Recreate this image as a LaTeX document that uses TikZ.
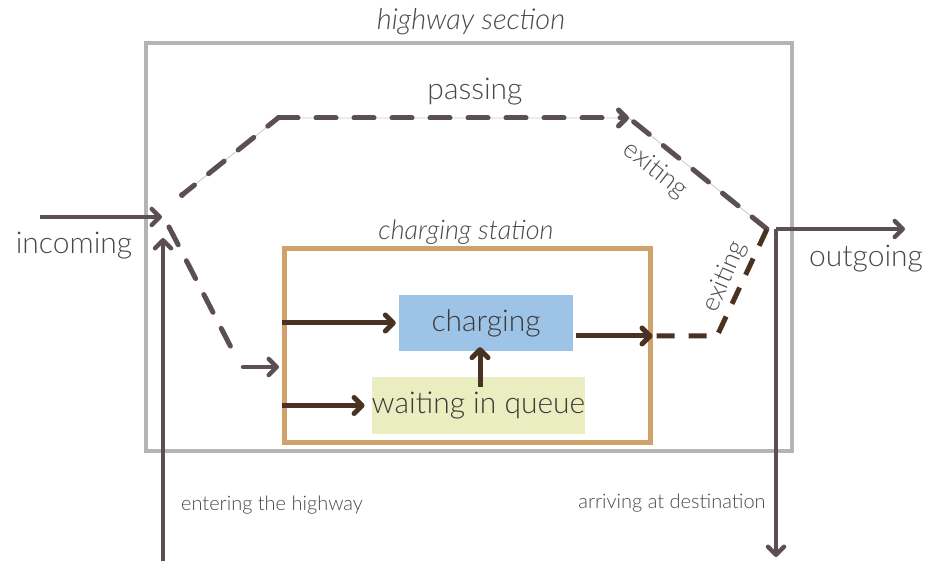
\documentclass[tikz,border=0pt]{standalone}
\usepackage{fontspec}
\setmainfont{Lato}[UprightFont=* Light, ItalicFont=* Light Italic]
\usetikzlibrary{arrows.meta, positioning}
\definecolor{cframe}{HTML}{B4B4B4}
\definecolor{cstation}{HTML}{CFA26C}
\definecolor{cpath}{HTML}{5C4F52}
\definecolor{cbrown}{HTML}{4A3222}
\definecolor{cguide}{HTML}{C8C8C8}
\definecolor{cblue}{HTML}{9DC3E6}
\definecolor{cyellow}{HTML}{E9EDBF}
\definecolor{ctext}{HTML}{4D4747}
\tikzset{
  every picture/.style={x=1pt, y=-1pt, text=ctext},
  big/.style={font=\fontsize{30}{34}\selectfont},
  small/.style={font=\fontsize{20}{24}\selectfont},
  slanted/.style={font=\fontsize{26}{30}\selectfont, inner sep=0pt},
  frame/.style={draw=#1, line width=4.5pt, minimum width=0pt, inner sep=0pt},
  stage/.style={fill=#1, big, text=ctext!80!black, inner sep=0pt},
  tip/.style={-{Straight Barb[length=8pt, width=16pt, round]}},
  flow/.style={draw=cpath, line width=4.5pt, tip},
  inflow/.style={draw=cbrown, line width=5pt, tip},
  dashpath/.style={draw=#1, line width=5pt, line cap=round, dash pattern=on 20pt off 18pt},
  dashpath/.default=cpath,
  guide/.style={draw=cguide, line width=0.8pt},
}
\begin{document}
\begin{tikzpicture}
  \useasboundingbox (0,0) rectangle (927,561);
  % frames
  \node[frame=cframe, minimum width=646pt, minimum height=408pt] (highway) at (469,247) {};
  \node[font=\fontsize{29}{33}\selectfont\itshape] (hwtitle) at (471,22) {highway section};
  \node[frame=cstation, line width=5pt, minimum width=366pt, minimum height=193pt] (station) at (467,345.5) {};
  \node[font=\fontsize{27}{31}\selectfont\itshape] (sttitle) at (466,232) {charging station};
  % stages
  \node[stage=cblue, minimum width=174pt, minimum height=56pt] (charging) at (486,323) {charging};
  \node[stage=cyellow, minimum width=211pt, minimum height=57pt] (waiting) at (478.5,405.5) {waiting in queue};
  % labels
  \node[big] (inlabel) at (74,246) {incoming};
  \node[big] (outlabel) at (866,259) {outgoing};
  \node[big] (passlabel) at (475,92) {passing};
  \node[small] (enterlabel) at (272,505) {entering the highway};
  \node[small] (arrivelabel) at (672,503) {arriving at destination};
  \node[slanted, rotate=-38] (exit1) at (655,170) {exiting};
  \node[slanted, rotate=67] (exit2) at (725,277) {exiting};
  % junctions
  \coordinate (inL) at (40,217);
  \coordinate (inR) at (162,217);
  \coordinate (entry) at (163,561);
  \coordinate (entryR) at (163,238);
  \coordinate (dot) at (182,195);
  \coordinate (topL) at (278,118);
  \coordinate (topR) at (629,118);
  \coordinate (join) at (767,229);
  \coordinate (split) at (169,227);
  \coordinate (splitD) at (236,357);
  \coordinate (qL) at (243,367);
  \coordinate (qR) at (279,367);
  \coordinate (qup) at (480,387);
  \coordinate (chout) at (576,336);
  \coordinate (stout) at (station.east |- chout);
  \coordinate (bend) at (717,336);
  \coordinate (corner) at (776,229);
  \coordinate (outR) at (905,229);
  \coordinate (outD) at (776,557);
  % incoming / entering
  \draw[flow] (inL) -- (inR);
  \draw[flow] (entry) -- (entryR);
  % passing
  \draw[guide] (dot) -- (topL) -- (topR) -- (join);
  \fill[cpath] (dot) circle (3pt);
  \draw[dashpath, dash phase=4pt] (dot) -- (topL);
  \draw[dashpath, tip] (topL) -- (topR);
  \draw[dashpath, dash phase=-6pt] (topR) -- (join);
  % to the station
  \draw[dashpath] (split) -- (splitD);
  \draw[flow, line cap=round] (qL) -- (qR);
  % inside the station
  \draw[inflow, shorten >=3pt] (station.west |- charging) -- (charging.west);
  \draw[inflow, shorten >=7pt] (station.west |- waiting) -- (waiting.west);
  \draw[inflow, shorten >=-4pt] (qup) -- (qup |- charging.south);
  \draw[inflow] (chout) -- (stout);
  \draw[dashpath=cbrown, dash pattern=on 18pt off 14pt, line cap=butt, dash phase=-4pt] (stout) -- (bend) -- (join);
  % outgoing
  \draw[flow] (corner) -- (outR);
  \draw[flow] (corner) -- (outD);
\end{tikzpicture}
\end{document}
